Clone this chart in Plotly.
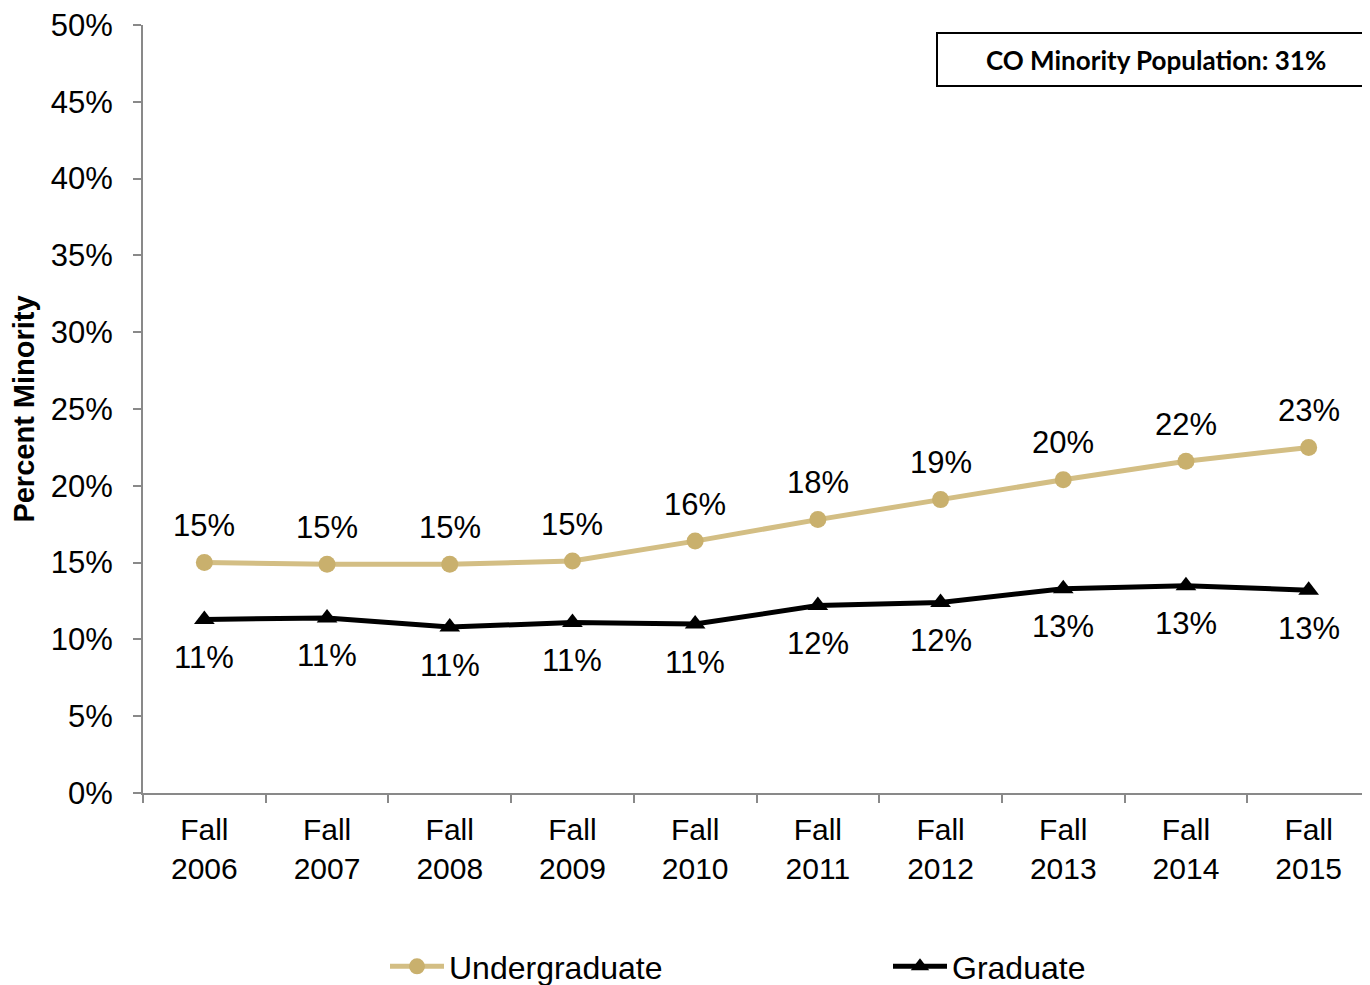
import plotly.graph_objects as go

categories = ["Fall 2006", "Fall 2007", "Fall 2008", "Fall 2009", "Fall 2010",
              "Fall 2011", "Fall 2012", "Fall 2013", "Fall 2014", "Fall 2015"]
tick_text = ["Fall<br>2006", "Fall<br>2007", "Fall<br>2008", "Fall<br>2009", "Fall<br>2010",
             "Fall<br>2011", "Fall<br>2012", "Fall<br>2013", "Fall<br>2014", "Fall<br>2015"]
undergrad = [0.150, 0.149, 0.149, 0.151, 0.164, 0.178, 0.191, 0.204, 0.216, 0.225]
graduate = [0.113, 0.114, 0.108, 0.111, 0.110, 0.122, 0.124, 0.133, 0.135, 0.132]
undergrad_labels = ["15%", "15%", "15%", "15%", "16%", "18%", "19%", "20%", "22%", "23%"]
graduate_labels = ["11%", "11%", "11%", "11%", "11%", "12%", "12%", "13%", "13%", "13%"]
y_ticks = [0, 0.05, 0.10, 0.15, 0.20, 0.25, 0.30, 0.35, 0.40, 0.45, 0.50]

GOLD_LINE = "#D3BE84"
GOLD_MARK = "#C9B06D"
FONT = "Liberation Sans, Arial, sans-serif"

fig = go.Figure()
fig.add_trace(go.Scatter(
    x=categories, y=undergrad, name="Undergraduate", mode="lines+markers",
    line=dict(color=GOLD_LINE, width=5),
    marker=dict(symbol="circle", size=17, color=GOLD_MARK),
    legend="legend",
))
fig.add_trace(go.Scatter(
    x=categories, y=graduate, name="Graduate", mode="lines+markers",
    line=dict(color="black", width=5),
    marker=dict(symbol="triangle-up", size=18, color="black"),
    legend="legend2",
))

annotations = []
for c, v, t in zip(categories, undergrad, undergrad_labels):
    annotations.append(dict(x=c, y=v, text=t, showarrow=False, yshift=37,
                            font=dict(size=31, color="black", family=FONT)))
for c, v, t in zip(categories, graduate, graduate_labels):
    annotations.append(dict(x=c, y=v, text=t, showarrow=False, yshift=-38,
                            font=dict(size=31, color="black", family=FONT)))
annotations.append(dict(xref="paper", yref="paper", x=(1156 - 143) / 1227, y=(793 - 60) / 768,
                        xanchor="center", yanchor="middle",
                        text="<b>CO Minority Population: 31%</b>", showarrow=False,
                        font=dict(size=26, color="black", family="Lato, Carlito, Calibri, sans-serif")))

legend_common = dict(orientation="h", yanchor="middle", xanchor="left", itemwidth=54,
                     font=dict(size=32, family=FONT), bgcolor="rgba(0,0,0,0)")

# page body has an 8px margin: figure is sized/shifted to compensate
fig.update_layout(
    width=1362, height=977,
    margin=dict(l=135, r=0, t=17, b=192, autoexpand=False),
    paper_bgcolor="white", plot_bgcolor="white",
    font=dict(family=FONT, color="black", size=31),
    showlegend=True,
    legend=dict(x=(385 - 143) / 1227, y=-0.226, **legend_common),
    legend2=dict(x=(888 - 143) / 1227, y=-0.226, **legend_common),
    annotations=annotations,
    shapes=[dict(type="rect", xref="paper", yref="paper", x0=(937 - 143) / 1227, x1=1.01,
                 y0=(793 - 86) / 768, y1=(793 - 33) / 768, line=dict(color="black", width=2),
                 fillcolor="rgba(0,0,0,0)")],
)
fig.update_xaxes(
    type="category", categoryorder="array", categoryarray=categories,
    range=[-0.5, len(categories) - 0.5],
    tickvals=categories, ticktext=tick_text, tickson="boundaries",
    showline=True, linecolor="#898989", linewidth=2,
    ticks="outside", ticklen=8, tickwidth=2, tickcolor="#898989",
    showgrid=False, zeroline=False, tickfont=dict(size=30, family=FONT),
    ticklabelstandoff=9, automargin=False, ticklabeloverflow="allow",
)
fig.update_yaxes(
    range=[0, 0.5], tickvals=y_ticks, tickformat=".0%",
    showline=True, linecolor="#898989", linewidth=2,
    ticks="outside", ticklen=8, tickwidth=2, tickcolor="#898989",
    showgrid=False, zeroline=False, tickfont=dict(size=31, family=FONT),
    ticklabelstandoff=14, automargin=False, ticklabeloverflow="allow",
    title=dict(text="<b>Percent Minority</b>", font=dict(size=29, family=FONT), standoff=10),
)

fig.write_html("out.html")
